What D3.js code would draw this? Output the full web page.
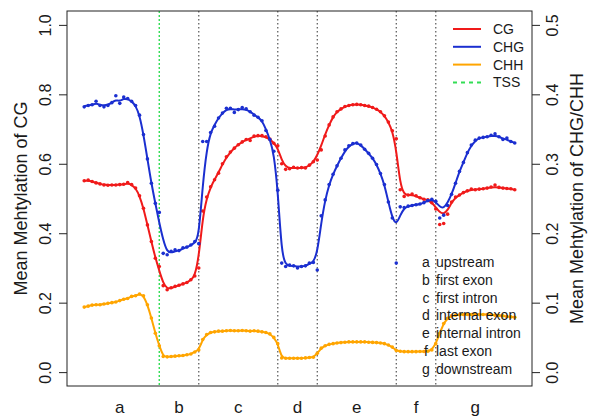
<!DOCTYPE html>
<html>
<head>
<meta charset="utf-8">
<script src="https://cdn.jsdelivr.net/npm/d3@7"></script>
<style>
body { margin: 0; background: #fff; }
text { font-family: "Liberation Sans", Arial, sans-serif; fill: #1a1a1a; }
</style>
</head>
<body>
<div id="chart"></div>
<script>
// bins: a 1-20, b 21-30, c 31-50, d 51-60, e 61-80, f 81-90, g 91-110
var cg = [
    0.551,0.553,0.549,0.545,0.542,0.539,0.538,0.539,0.539,0.540,0.541,0.546,0.540,0.530,0.508,0.472,0.424,0.376,0.328,0.304,
    0.249,0.237,0.243,0.247,0.250,0.254,0.258,0.266,0.277,0.300,
    0.464,0.504,0.534,0.554,0.573,0.600,0.620,0.634,0.645,0.655,0.663,0.670,0.667,0.680,0.681,0.681,0.678,0.671,0.659,0.652,
    0.600,0.584,0.586,0.590,0.588,0.589,0.588,0.596,0.606,0.611,
    0.640,0.680,0.712,0.735,0.750,0.758,0.765,0.768,0.770,0.771,0.770,0.768,0.766,0.762,0.757,0.750,0.738,0.720,0.695,0.672,
    0.525,0.506,0.510,0.513,0.508,0.502,0.498,0.496,0.488,0.470,
    0.425,0.428,0.455,0.490,0.504,0.510,0.517,0.522,0.527,0.525,0.527,0.528,0.530,0.533,0.539,0.532,0.530,0.529,0.528,0.525
];
var cgFit = [
    0.551,0.552,0.549,0.545,0.542,0.540,0.539,0.539,0.539,0.540,0.541,0.543,0.540,0.530,0.508,0.472,0.424,0.376,0.330,0.292,
    0.256,0.240,0.242,0.246,0.250,0.254,0.258,0.265,0.277,0.330,
    0.445,0.500,0.532,0.555,0.575,0.598,0.618,0.633,0.645,0.655,0.663,0.668,0.673,0.678,0.680,0.680,0.677,0.670,0.660,0.645,
    0.610,0.592,0.587,0.588,0.588,0.588,0.589,0.595,0.605,0.625,
    0.652,0.685,0.712,0.735,0.750,0.758,0.764,0.768,0.770,0.771,0.770,0.768,0.766,0.762,0.757,0.750,0.738,0.720,0.695,0.640,
    0.540,0.512,0.510,0.510,0.507,0.502,0.498,0.495,0.488,0.475,
    0.460,0.455,0.466,0.488,0.503,0.510,0.517,0.522,0.525,0.526,0.527,0.528,0.530,0.532,0.533,0.532,0.530,0.529,0.528,0.525
];
var chg = [
    0.382,0.384,0.385,0.390,0.384,0.382,0.384,0.388,0.398,0.387,0.396,0.394,0.390,0.384,0.370,0.342,0.307,0.272,0.243,0.230,
    0.171,0.169,0.174,0.176,0.175,0.179,0.180,0.183,0.188,0.185,
    0.332,0.332,0.345,0.354,0.366,0.373,0.380,0.380,0.374,0.378,0.381,0.379,0.375,0.370,0.367,0.362,0.348,0.335,0.318,0.262,
    0.157,0.152,0.154,0.153,0.150,0.152,0.153,0.157,0.158,0.147,
    0.225,0.248,0.270,0.285,0.297,0.308,0.320,0.326,0.329,0.330,0.327,0.321,0.315,0.308,0.299,0.286,0.270,0.245,0.222,0.157,
    0.238,0.237,0.239,0.240,0.241,0.242,0.244,0.247,0.249,0.246,
    0.222,0.226,0.240,0.256,0.272,0.289,0.302,0.316,0.327,0.334,0.337,0.338,0.339,0.341,0.343,0.339,0.335,0.337,0.332,0.330
];
var chgFit = [
    0.383,0.384,0.385,0.387,0.385,0.384,0.385,0.388,0.392,0.390,0.394,0.393,0.390,0.384,0.370,0.342,0.307,0.272,0.243,0.215,
    0.190,0.173,0.172,0.174,0.175,0.178,0.180,0.183,0.186,0.195,
    0.270,0.320,0.345,0.356,0.366,0.373,0.378,0.379,0.378,0.378,0.379,0.378,0.375,0.371,0.367,0.362,0.350,0.335,0.315,0.262,
    0.170,0.155,0.153,0.153,0.152,0.152,0.153,0.156,0.158,0.172,
    0.215,0.248,0.270,0.285,0.297,0.308,0.318,0.325,0.329,0.330,0.327,0.321,0.315,0.308,0.299,0.286,0.270,0.245,0.222,0.212,
    0.226,0.236,0.239,0.240,0.241,0.242,0.244,0.247,0.248,0.245,
    0.238,0.236,0.244,0.256,0.272,0.289,0.302,0.316,0.326,0.333,0.337,0.338,0.339,0.340,0.340,0.339,0.336,0.335,0.332,0.330
];
var chh = [
    0.0936,0.095,0.0965,0.097,0.097,0.098,0.099,0.100,0.101,0.103,0.105,0.106,0.109,0.110,0.1125,0.110,0.097,0.078,0.056,0.038,
    0.0225,0.022,0.0225,0.023,0.0235,0.024,0.025,0.026,0.029,0.032,
    0.047,0.054,0.057,0.058,0.059,0.059,0.0595,0.060,0.0595,0.0595,0.060,0.0595,0.059,0.0595,0.059,0.058,0.057,0.055,0.050,0.041,
    0.0205,0.020,0.020,0.020,0.020,0.020,0.0205,0.021,0.0215,0.027,
    0.0345,0.038,0.040,0.041,0.042,0.0425,0.043,0.0435,0.0435,0.0435,0.0435,0.0435,0.043,0.0428,0.0425,0.042,0.041,0.039,0.036,0.031,
    0.030,0.0295,0.0295,0.0295,0.0295,0.0297,0.0297,0.030,0.032,0.041,
    0.056,0.070,0.0775,0.081,0.082,0.0825,0.083,0.083,0.083,0.0832,0.083,0.083,0.0828,0.0825,0.082,0.0815,0.081,0.080,0.0795,0.079
];

var tssPos = 20;
var boundaries = [30, 50, 60, 80, 90];
var segLetters = ["a", "b", "c", "d", "e", "f", "g"];
var segCenters = [10, 25, 40, 55, 70, 85, 100];
var segNames = ["upstream", "first exon", "first intron", "internal exon", "internal intron", "last exon", "downstream"];
var leftTicks = [0, 0.2, 0.4, 0.6, 0.8, 1.0];
var rightTicks = [0, 0.1, 0.2, 0.3, 0.4, 0.5];

function drawChart() {
    var W = 589, H = 417;
    var margin = {top: 11, right: 57, bottom: 31, left: 67};
    var width = W - margin.left - margin.right;
    var height = H - margin.top - margin.bottom;

    var svg = d3.select("#chart").append("svg")
        .attr("width", W)
        .attr("height", H);
    var g = svg.append("g")
        .attr("transform", "translate(" + margin.left + "," + margin.top + ")");

    var n = cg.length;
    var idx = d3.range(1, n + 1);
    var pad = 0.04 * (n - 1);
    var x = d3.scaleLinear().domain([1 - pad, n + pad]).range([0, width]);
    var yL = d3.scaleLinear().domain([-0.04, 1.04]).range([height, 0]);
    var yR = d3.scaleLinear().domain([-0.02, 0.52]).range([height, 0]);

    // segment dividers
    g.selectAll(".divider")
        .data(boundaries)
        .enter().append("line")
        .attr("class", "divider")
        .attr("x1", function(d) { return x(d); })
        .attr("x2", function(d) { return x(d); })
        .attr("y1", 0)
        .attr("y2", height)
        .attr("stroke", "#555")
        .attr("stroke-width", 1.2)
        .attr("stroke-dasharray", "1.5,2.5");

    g.append("line")
        .attr("x1", x(tssPos)).attr("x2", x(tssPos))
        .attr("y1", 0).attr("y2", height)
        .attr("stroke", "#33dd55")
        .attr("stroke-width", 1.4)
        .attr("stroke-dasharray", "2,2");

    var series = [
        { dots: cg, fit: cgFit, y: yL, color: "#f01a1a" },
        { dots: chg, fit: chgFit, y: yR, color: "#1b2fd0" },
        { dots: chh, fit: chh, y: yR, color: "#ffa500" }
    ];

    series.forEach(function(s) {
        var line = d3.line()
            .x(function(d, i) { return x(idx[i]); })
            .y(function(d) { return s.y(d); })
            .curve(d3.curveBasis);

        g.append("path")
            .datum(s.fit)
            .attr("d", line)
            .attr("fill", "none")
            .attr("stroke", s.color)
            .attr("stroke-width", 2);

        g.selectAll(null)
            .data(s.dots)
            .enter().append("circle")
            .attr("cx", function(d, i) { return x(idx[i]); })
            .attr("cy", function(d) { return s.y(d); })
            .attr("r", 1.8)
            .attr("fill", s.color);
    });

    // frame
    g.append("rect")
        .attr("width", width)
        .attr("height", height)
        .attr("fill", "none")
        .attr("stroke", "#222")
        .attr("stroke-width", 1);

    var leftAxis = g.append("g")
        .call(d3.axisLeft(yL).tickValues(leftTicks).tickSize(8).tickFormat(d3.format(".1f")));
    leftAxis.select(".domain").remove();
    leftAxis.selectAll("line").attr("stroke", "#222");
    leftAxis.selectAll("text")
        .attr("transform", "rotate(-90)")
        .attr("x", 0)
        .attr("y", -16)
        .attr("dy", 0)
        .attr("text-anchor", "middle")
        .style("font-size", "16px")
        .style("font-family", "'Liberation Sans', Arial, sans-serif")
        .attr("fill", "#1a1a1a");

    var rightAxis = g.append("g")
        .attr("transform", "translate(" + width + ",0)")
        .call(d3.axisRight(yR).tickValues(rightTicks).tickSize(8).tickFormat(d3.format(".1f")));
    rightAxis.select(".domain").remove();
    rightAxis.selectAll("line").attr("stroke", "#222");
    rightAxis.selectAll("text")
        .attr("transform", "rotate(-90)")
        .attr("x", 0)
        .attr("y", 26)
        .attr("dy", 0)
        .attr("text-anchor", "middle")
        .style("font-size", "16px")
        .style("font-family", "'Liberation Sans', Arial, sans-serif")
        .attr("fill", "#1a1a1a");

    // segment letters under the axis
    g.selectAll(".seglabel")
        .data(segLetters)
        .enter().append("text")
        .attr("class", "seglabel")
        .attr("x", function(d, i) { return x(segCenters[i]); })
        .attr("y", height + 27)
        .attr("text-anchor", "middle")
        .style("font-size", "17px")
        .text(function(d) { return d; });

    svg.append("text")
        .attr("transform", "translate(27," + (margin.top + height / 2) + ") rotate(-90)")
        .attr("text-anchor", "middle")
        .style("font-size", "18px")
        .text("Mean Mehtylation of CG");

    svg.append("text")
        .attr("transform", "translate(583," + (margin.top + height / 2) + ") rotate(-90)")
        .attr("text-anchor", "middle")
        .style("font-size", "18px")
        .text("Mean Mehtylation of CHG/CHH");

    // legend, top right
    var legendDefs = [
        { label: "CG", color: "#f01a1a", dash: null },
        { label: "CHG", color: "#1b2fd0", dash: null },
        { label: "CHH", color: "#ffa500", dash: null },
        { label: "TSS", color: "#33dd55", dash: "4,4" }
    ];
    var legend = svg.append("g").attr("transform", "translate(453,29)");
    legendDefs.forEach(function(def, i) {
        var row = legend.append("g").attr("transform", "translate(0," + (i * 17.8) + ")");
        row.append("line")
            .attr("x1", 0).attr("x2", 28)
            .attr("y1", 0).attr("y2", 0)
            .attr("stroke", def.color)
            .attr("stroke-width", 2)
            .attr("stroke-dasharray", def.dash);
        row.append("text")
            .attr("x", 40)
            .attr("y", 5)
            .style("font-size", "14px")
            .text(def.label);
    });

    // segment key, bottom right
    var key = svg.append("g").attr("transform", "translate(0,267)");
    segLetters.forEach(function(letter, i) {
        key.append("text")
            .attr("x", 426)
            .attr("y", i * 17.8)
            .attr("text-anchor", "middle")
            .style("font-size", "14px")
            .text(letter);
        key.append("text")
            .attr("x", 436)
            .attr("y", i * 17.8)
            .style("font-size", "14px")
            .text(segNames[i]);
    });
}

drawChart();
</script>
</body>
</html>
